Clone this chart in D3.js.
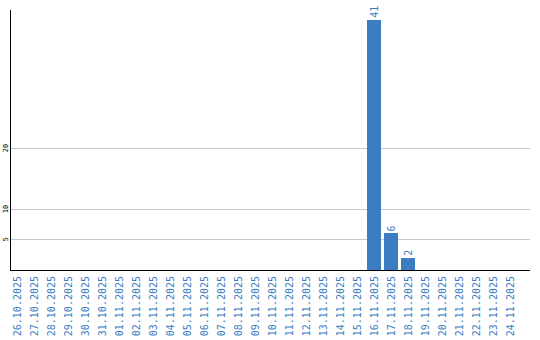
<!DOCTYPE html>
<html>
<head>
<meta charset="utf-8">
<script src="https://cdn.jsdelivr.net/npm/d3@7"></script>
<style>
  body { margin: 0; background: #fff; }
  svg { display: block; }
</style>
</head>
<body>
<svg id="chart"></svg>
<script>
const dates = [
  '26.10.2025', '27.10.2025', '28.10.2025', '29.10.2025', '30.10.2025', '31.10.2025',
  '01.11.2025', '02.11.2025', '03.11.2025', '04.11.2025', '05.11.2025', '06.11.2025',
  '07.11.2025', '08.11.2025', '09.11.2025', '10.11.2025', '11.11.2025', '12.11.2025',
  '13.11.2025', '14.11.2025', '15.11.2025', '16.11.2025', '17.11.2025', '18.11.2025',
  '19.11.2025', '20.11.2025', '21.11.2025', '22.11.2025', '23.11.2025', '24.11.2025'
];
const counts = [
  0, 0, 0, 0, 0, 0,
  0, 0, 0, 0, 0, 0,
  0, 0, 0, 0, 0, 0,
  0, 0, 0, 41, 6, 2,
  0, 0, 0, 0, 0, 0
];
const yTicks = [5, 10, 20];

const data = dates.map((d, i) => ({ date: d, value: counts[i] }));

const W = 540, H = 340;
const blue = '#3b7dc3';
const font = 'DejaVu Sans Mono, monospace';

const svg = d3.select('#chart')
  .attr('width', W)
  .attr('height', H);

const x = d3.scaleBand()
  .domain(dates)
  .range([8.5, 518.5])
  .paddingInner(0.18)
  .paddingOuter(0.09);

const y = d3.scaleLinear()
  .domain([0, 42.6])
  .range([270, 10]);

// grid lines
svg.append('g')
  .selectAll('line')
  .data(yTicks)
  .enter()
  .append('line')
  .attr('x1', 10)
  .attr('x2', 530)
  .attr('y1', d => Math.round(y(d)) + 0.5)
  .attr('y2', d => Math.round(y(d)) + 0.5)
  .attr('stroke', '#c8c8c8')
  .attr('stroke-width', 1);

// y tick labels (rotated)
svg.append('g')
  .selectAll('text')
  .data(yTicks)
  .enter()
  .append('text')
  .attr('transform', d => `translate(8,${y(d)}) rotate(-90)`)
  .attr('text-anchor', 'middle')
  .attr('font-family', font)
  .attr('font-size', 7)
  .attr('fill', '#000')
  .text(d => d);

// bars
svg.append('g')
  .selectAll('rect')
  .data(data.filter(d => d.value > 0))
  .enter()
  .append('rect')
  .attr('x', d => Math.round(x(d.date)))
  .attr('width', Math.round(x.bandwidth()))
  .attr('y', d => Math.round(y(d.value)))
  .attr('height', d => 270 - Math.round(y(d.value)))
  .attr('fill', blue);

// value labels
svg.append('g')
  .selectAll('text')
  .data(data.filter(d => d.value > 0))
  .enter()
  .append('text')
  .attr('transform', d => `translate(${x(d.date) + x.bandwidth() / 2 + 3.5},${y(d.value) - 2}) rotate(-90)`)
  .attr('text-anchor', 'start')
  .attr('font-family', font)
  .attr('font-size', 10)
  .attr('fill', blue)
  .text(d => d.value);

// axes lines
svg.append('line')
  .attr('x1', 10.5).attr('x2', 10.5)
  .attr('y1', 10).attr('y2', 270)
  .attr('stroke', '#000');
svg.append('line')
  .attr('x1', 10).attr('x2', 530)
  .attr('y1', 270.5).attr('y2', 270.5)
  .attr('stroke', '#000');

// x labels
svg.append('g')
  .selectAll('text')
  .data(dates)
  .enter()
  .append('text')
  .attr('transform', d => `translate(${x(d) + x.bandwidth() / 2 + 3.5},276) rotate(-90)`)
  .attr('text-anchor', 'end')
  .attr('font-family', font)
  .attr('font-size', 10)
  .attr('fill', blue)
  .text(d => d);
</script>
</body>
</html>
